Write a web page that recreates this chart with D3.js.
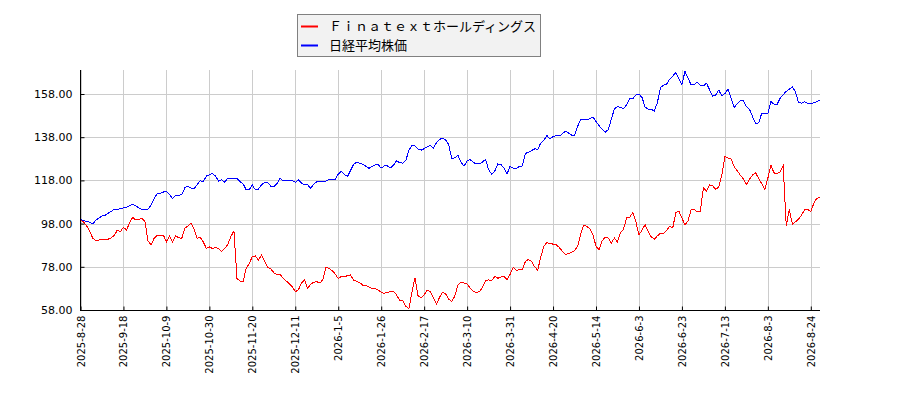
<!DOCTYPE html>
<html><head><meta charset="utf-8">
<script src="https://cdn.jsdelivr.net/npm/d3@7/dist/d3.min.js"></script>
<style>body{margin:0;background:#fff}svg{display:block}</style>
</head><body>
<svg id="c" width="900" height="400"></svg>
<script>
const seriesNames = ["Ｆｉｎａｔｅｘｔホールディングス", "日経平均株価"];
const seriesColors = ["#ff0000", "#0000ff"];
const tickLabels = ["2025-8-28","2025-9-18","2025-10-9","2025-10-30","2025-11-20","2025-12-11","2026-1-5","2026-1-26","2026-2-17","2026-3-10","2026-3-31","2026-4-20","2026-5-14","2026-6-3","2026-6-23","2026-7-13","2026-8-3","2026-8-24"];
const tickStep = 14;
const yTicks = [58, 78, 98, 118, 138, 158];
const finatext = [99.7,98.8,97.0,94.5,91.2,90.1,90.4,90.7,90.4,90.8,91.4,92.5,95.0,94.3,96.3,95.0,98.5,100.9,99.7,100.0,
100.4,98.9,90.0,88.1,91.2,92.7,92.7,92.7,89.6,92.3,89.6,92.3,91.5,91.2,95.8,96.9,98.1,95.5,91.2,91.6,
89.6,86.5,87.2,86.5,87.0,86.3,85.0,86.5,88.3,92.0,94.6,72.5,71.4,71.1,77.3,79.6,82.7,83.0,81.1,83.5,
80.4,77.7,77.0,75.3,74.3,74.7,72.8,71.5,70.2,68.8,66.5,67.3,70.5,72.0,68.0,70.0,70.8,71.1,70.5,72.0,
77.7,77.3,76.2,74.7,72.5,73.6,73.4,73.9,74.3,71.8,71.3,70.7,69.5,69.4,68.7,68.0,68.0,67.3,66.2,65.7,
66.2,66.4,66.6,65.0,62.5,62.5,59.8,58.5,66.0,73.0,64.6,63.6,65.0,67.2,66.5,63.8,60.8,63.8,66.2,65.5,
63.0,62.0,64.5,69.5,71.0,70.5,70.0,68.2,66.7,66.0,66.5,68.5,71.5,72.0,71.5,73.6,72.7,73.2,73.7,72.0,
74.5,77.7,76.3,76.6,76.8,80.5,81.4,80.5,78.0,76.5,82.5,87.5,89.2,88.8,88.5,88.2,87.0,85.3,83.8,84.0,
84.8,85.5,87.5,93.0,97.2,96.8,95.5,93.0,87.5,85.8,90.0,91.7,91.3,89.0,91.3,89.5,93.8,95.5,101.0,101.0,
103.0,98.9,92.7,95.0,97.5,94.5,91.8,90.8,92.3,93.5,93.5,94.8,96.8,96.0,103.0,103.8,100.5,97.5,99.2,104.5,
104.5,103.5,103.8,114.6,113.1,116.0,115.5,113.8,115.0,120.5,129.0,128.3,128.0,124.5,122.5,120.5,118.8,116.0,118.5,120.5,
121.5,119.0,116.5,113.8,119.0,125.0,121.5,121.0,122.0,124.8,97.0,104.5,97.8,98.8,100.0,102.0,104.4,104.6,103.5,107.5,
109.8,110.0];
const nikkei = [100.0,99.3,99.0,98.6,97.8,99.6,100.6,101.5,101.8,102.8,103.6,104.6,104.7,104.8,105.3,105.6,106.2,106.9,106.2,105.3,
104.6,104.3,104.6,106.6,109.5,112.0,112.0,112.6,113.0,111.5,109.6,111.2,111.2,111.3,114.6,115.3,114.5,114.2,115.9,117.9,
117.4,120.0,120.5,121.2,120.0,117.6,118.4,117.1,119.0,119.0,119.1,118.8,117.4,116.4,113.6,113.8,115.9,113.6,114.0,115.9,
117.1,117.1,115.3,115.0,116.4,119.0,117.7,117.9,117.9,117.9,117.1,118.2,116.8,115.9,116.1,114.3,116.2,117.4,117.7,117.7,
117.7,118.5,118.2,118.2,121.0,122.2,120.8,119.8,122.6,125.4,126.5,126.0,125.5,124.6,123.6,124.4,125.2,125.3,123.7,124.7,
124.7,123.8,125.0,127.2,126.2,126.0,127.2,131.8,134.3,133.9,132.5,132.0,132.7,133.5,134.2,133.0,135.5,137.0,137.5,136.8,
134.5,128.0,128.5,129.6,126.5,124.6,127.0,127.6,126.4,125.6,125.6,126.5,127.7,123.0,120.8,122.3,125.6,125.4,123.8,121.0,
124.5,123.6,123.5,124.5,124.7,130.5,131.0,131.8,132.6,132.4,135.3,136.5,138.8,137.2,138.3,138.8,138.5,139.5,140.8,140.0,
139.0,138.6,143.0,146.0,146.0,146.0,146.5,147.3,145.3,143.3,141.8,140.3,141.5,146.3,151.2,152.1,151.9,151.2,153.0,156.0,
155.8,157.6,158.0,156.4,152.0,151.0,151.0,150.1,154.0,161.0,162.0,162.6,164.8,166.2,168.0,165.0,162.3,168.5,165.3,162.2,
162.2,163.5,162.0,161.8,163.0,160.0,157.0,157.5,159.8,157.2,158.2,160.2,156.0,151.7,153.5,154.9,155.0,152.3,151.0,147.6,
144.3,144.6,149.0,149.0,149.0,154.5,153.3,153.2,156.0,157.7,159.2,160.2,161.2,159.0,154.0,153.8,154.5,153.5,153.5,154.0,
154.5,155.2];

const L = 80, R = 820, T = 70, B = 310;
const N = finatext.length;
const svg = d3.select("#c");
const x = d3.scaleLinear().domain([0, N - 1]).range([80.5, R]);
const y = d3.scaleLinear().domain([58, 158]).range([B, 94]);
const tickIdx = tickLabels.map((d, i) => i * tickStep);

// grid
const g = svg.append("g").attr("shape-rendering", "crispEdges");
g.selectAll("line.gy").data(yTicks).join("line")
  .attr("x1", L).attr("x2", R).attr("y1", d => Math.round(y(d)) + 0.5).attr("y2", d => Math.round(y(d)) + 0.5)
  .attr("stroke", "#cccccc");
g.selectAll("line.gx").data(tickIdx).join("line")
  .attr("y1", T).attr("y2", B).attr("x1", d => Math.round(x(d)) + 0.5).attr("x2", d => Math.round(x(d)) + 0.5)
  .attr("stroke", "#cccccc");

// lines
const line = d3.line().x((d, i) => x(i)).y(d => y(d));
[finatext, nikkei].forEach((s, k) => {
  svg.append("path").datum(s).attr("d", line).attr("fill", "none")
    .attr("stroke", seriesColors[k]).attr("stroke-width", 1).attr("shape-rendering", "crispEdges");
});

// axes
const ya = svg.append("g").attr("transform", `translate(${L + 0.5},0)`)
  .call(d3.axisLeft(y).tickValues(yTicks).tickFormat(d3.format(".2f")).tickSizeInner(-4).tickSizeOuter(0).tickPadding(8));
ya.select(".domain").remove();
ya.selectAll("text").attr("font-family", "DejaVu Sans").attr("font-size", 11).attr("fill", "#000");
ya.selectAll(".tick line").attr("stroke", "#000");

const xa = svg.append("g").attr("transform", `translate(0,${B + 0.5})`)
  .call(d3.axisBottom(x).tickValues(tickIdx).tickFormat((d, i) => tickLabels[i]).tickSizeInner(-4).tickSizeOuter(0));
xa.select(".domain").remove();
xa.selectAll(".tick line").attr("stroke", "#000");
xa.selectAll("text").attr("font-family", "DejaVu Sans").attr("font-size", 10).attr("fill", "#000")
  .attr("y", 0).attr("x", -5).attr("dy", "0.35em").attr("transform", "rotate(-90)").style("text-anchor", "end");

svg.append("path").attr("d", `M${L + 0.5},${T}V${B + 0.5}H${R}`).attr("fill", "none").attr("stroke", "#000").attr("shape-rendering", "crispEdges");

// legend
const lg = svg.append("g");
lg.append("rect").attr("x", 297.5).attr("y", 14.5).attr("width", 243).attr("height", 42)
  .attr("fill", "#f2f2f2").attr("stroke", "#808080");
seriesNames.forEach((n, k) => {
  const cy = 26.5 + k * 19;
  lg.append("line").attr("x1", 301).attr("x2", 318).attr("y1", cy).attr("y2", cy)
    .attr("stroke", seriesColors[k]).attr("stroke-width", 2);
  lg.append("text").attr("x", 329).attr("y", cy).attr("dy", "0.36em")
    .attr("font-family", "Noto Sans CJK JP").attr("font-size", 13).attr("fill", "#000").text(n);
});
</script>
</body></html>
